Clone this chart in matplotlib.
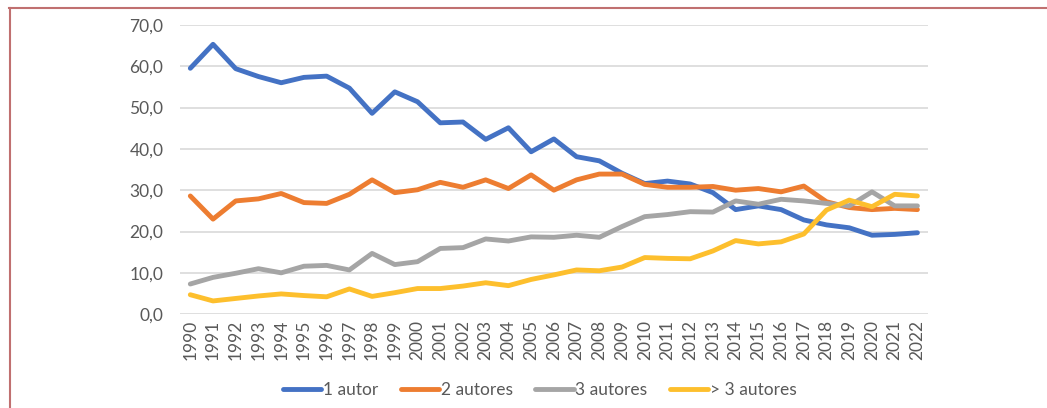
import numpy as np
import matplotlib
matplotlib.use("Agg")
import matplotlib.pyplot as plt
from matplotlib.lines import Line2D

years = list(range(1990, 2023))

autor_1 = [59.5, 65.3, 59.4, 57.5, 56.0, 57.3, 57.6, 54.7, 48.6, 53.8, 51.4, 46.3,
           46.5, 42.3, 45.1, 39.3, 42.4, 38.1, 37.1, 34.1, 31.6, 32.2, 31.5, 29.4,
           25.3, 26.2, 25.3, 22.8, 21.6, 20.9, 19.1, 19.3, 19.7]
autores_2 = [28.6, 23.0, 27.4, 27.9, 29.2, 27.0, 26.8, 29.0, 32.5, 29.4, 30.1, 31.9,
             30.7, 32.5, 30.4, 33.7, 30.0, 32.5, 33.9, 33.9, 31.4, 30.7, 30.7, 30.9,
             30.0, 30.4, 29.6, 31.0, 27.2, 25.8, 25.3, 25.6, 25.3]
autores_3 = [7.3, 8.9, 9.9, 11.0, 10.0, 11.6, 11.8, 10.7, 14.7, 12.0, 12.7, 15.9,
             16.1, 18.2, 17.7, 18.7, 18.6, 19.1, 18.6, 21.2, 23.6, 24.1, 24.8, 24.7,
             27.4, 26.6, 27.8, 27.4, 26.8, 26.2, 29.6, 26.2, 26.2]
mais_3 = [4.7, 3.2, 3.8, 4.4, 4.9, 4.5, 4.2, 6.1, 4.3, 5.2, 6.2, 6.2,
          6.8, 7.6, 6.9, 8.4, 9.5, 10.7, 10.5, 11.4, 13.7, 13.5, 13.4, 15.3,
          17.8, 17.0, 17.5, 19.4, 25.2, 27.6, 26.0, 29.0, 28.6]

series = [("1 autor", autor_1, "#4472c4"),
          ("2 autores", autores_2, "#ed7d31"),
          ("3 autores", autores_3, "#a5a5a5"),
          ("> 3 autores", mais_3, "#fdbf2d")]

plt.rcParams['font.family'] = ['Lato', 'DejaVu Sans']
txt = "#595959"

fig = plt.figure(figsize=(10.47, 4.08), dpi=100)
ax = fig.add_axes([0.172, 0.230, 0.714, 0.709])

for name, vals, col in series:
    ax.plot(years, vals, color=col, lw=3.5, label=name, solid_capstyle='round',
            solid_joinstyle='round')

ax.set_ylim(0, 70)
ax.set_xlim(1989.55, 2022.45)
ax.set_yticks(np.arange(0, 71, 10))
ax.set_yticklabels([f"{v:.1f}".replace(".", ",") for v in np.arange(0, 71, 10)])
ax.set_xticks(years)
ax.set_xticklabels([str(y) for y in years], rotation=90)
ax.tick_params(axis='both', length=0, colors=txt, labelsize=12.5)
ax.tick_params(axis='y', pad=12)
ax.tick_params(axis='x', pad=4)
ax.grid(axis='y', color="#d9d9d9", lw=1.2)
ax.set_axisbelow(True)
for s in ax.spines.values():
    s.set_visible(False)

fig.legend(loc='center', bbox_to_anchor=(540 / 1047, 1 - 390 / 408), ncol=4,
           frameon=False, fontsize=12.5, handlelength=2.2, handletextpad=0.1,
           columnspacing=1.3, labelcolor=txt)

# red frame line (top and left)
fig.add_artist(Line2D([9 / 1047, 1], [1 - 8 / 408, 1 - 8 / 408], color="#c07070", lw=1.5,
                      transform=fig.transFigure))
fig.add_artist(Line2D([9.5 / 1047, 9.5 / 1047], [0, 1 - 8 / 408], color="#c07070", lw=1.5,
                      transform=fig.transFigure))

fig.savefig("out.png", dpi=100)
